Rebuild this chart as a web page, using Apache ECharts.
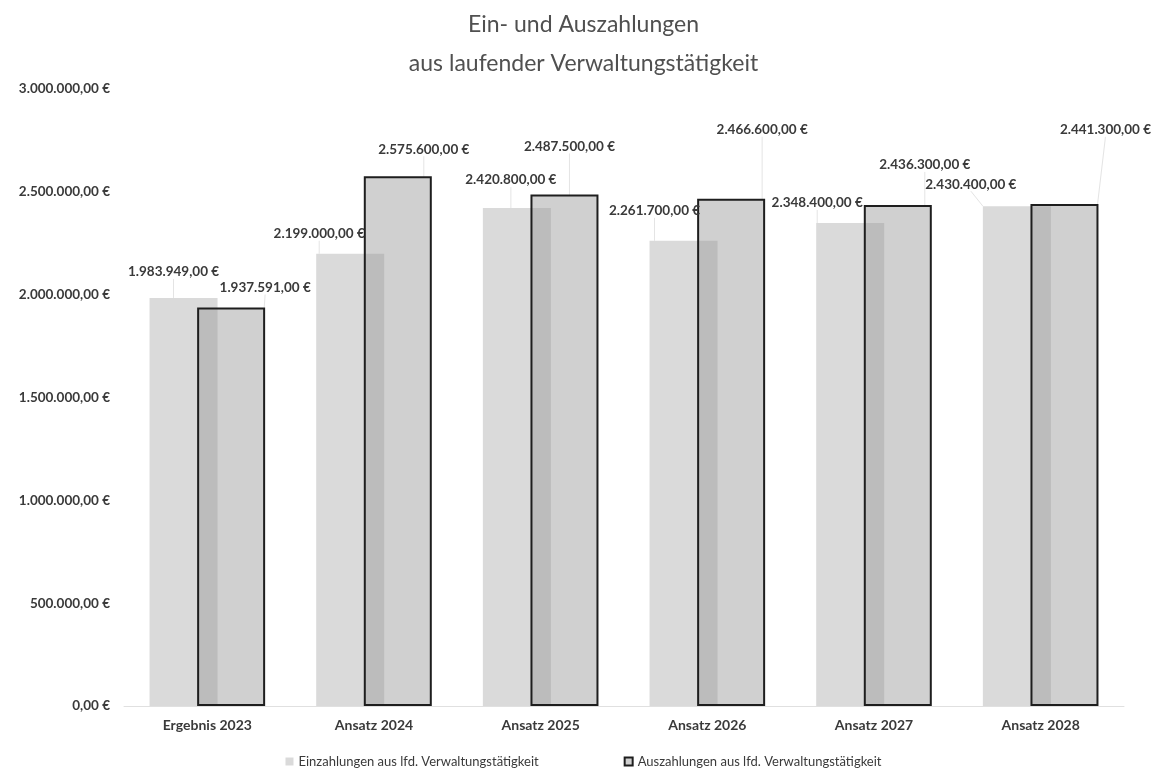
<!DOCTYPE html>
<html>
<head>
<meta charset="utf-8">
<script src="https://cdn.jsdelivr.net/npm/echarts@6/dist/echarts.min.js"></script>
<style>
html,body{margin:0;padding:0;background:#fff;}
#chart{width:1167px;height:769px;}
</style>
</head>
<body>
<div id="chart"></div>
<script>
const categories = ['Ergebnis 2023','Ansatz 2024','Ansatz 2025','Ansatz 2026','Ansatz 2027','Ansatz 2028'];
const einzahlungen = [1983949, 2199000, 2420800, 2261700, 2348400, 2430400];
const auszahlungen = [1937591, 2575600, 2487500, 2466600, 2436300, 2441300];
const seriesNames = ['Einzahlungen aus lfd. Verwaltungstätigkeit', 'Auszahlungen aus lfd. Verwaltungstätigkeit'];
const titleLines = ['Ein- und Auszahlungen', 'aus laufender Verwaltungstätigkeit'];

// label nudges (style only) relative to default top position
const einLabelShift = [[-10,-14],[-31,-8],[-6,-16],[-29,-18],[-33,-8],[-46,-10]];
const ausLabelShift = [[34,-8],[26,-15],[5,-36],[31,-57],[27,-28],[41,-62]];

function fmtEuro(v){
  const neg = v < 0; v = Math.abs(v);
  const parts = v.toFixed(2).split('.');
  const intPart = parts[0].replace(/\B(?=(\d{3})+(?!\d))/g, '.');
  return (neg ? '-' : '') + intPart + ',' + parts[1] + ' €';
}

const FONT = 'Lato, "Open Sans", sans-serif';
const chart = echarts.init(document.getElementById('chart'), null, {renderer:'canvas'});
const labelStyle = {
  show: true, position: 'top', distance: 5,
  formatter: p => fmtEuro(p.value),
  fontFamily: FONT, fontSize: 13.5, fontWeight: 'bold', color: '#3a3a3a'
};
chart.setOption({
  animation: false,
  backgroundColor: '#ffffff',
  title: {
    text: titleLines.join('\n'),
    left: 'center', top: 0,
    textStyle: { fontFamily: FONT, fontSize: 23, fontWeight: 'normal', color: '#505050', lineHeight: 39 }
  },
  grid: { left: 124, right: 43, top: 89, bottom: 63, containLabel: false },
  legend: {
    top: 750, left: 'center', itemWidth: 8, itemHeight: 8, itemGap: 85,
    icon: 'rect',
    textStyle: { fontFamily: FONT, fontSize: 13, color: '#3a3a3a' },
    data: seriesNames
  },
  xAxis: {
    type: 'category', data: categories,
    axisLine: { show: true, lineStyle: { color: '#e0e0e0', width: 1 } },
    axisTick: { show: false },
    axisLabel: { margin: 12, fontFamily: FONT, fontSize: 14, fontWeight: 'bold', color: '#3a3a3a' }
  },
  yAxis: {
    type: 'value', min: 0, max: 3000000, interval: 500000,
    splitLine: { show: false },
    axisLine: { show: false }, axisTick: { show: false },
    axisLabel: { margin: 14, formatter: fmtEuro, fontFamily: FONT, fontSize: 13.5, fontWeight: 'bold', color: '#3a3a3a' }
  },
  series: [
    {
      name: seriesNames[0], type: 'bar', data: einzahlungen,
      barWidth: 68, barGap: '-30%',
      itemStyle: { color: '#dadada' },
      label: labelStyle,
      labelLine: { show: true, lineStyle: { color: '#e4e4e4', width: 1 } },
      labelLayout: p => ({ dx: einLabelShift[p.dataIndex][0], dy: einLabelShift[p.dataIndex][1] })
    },
    {
      name: seriesNames[1], type: 'bar', data: auszahlungen,
      barWidth: 68, barGap: '-30%',
      itemStyle: { color: 'rgba(150,150,150,0.45)', borderColor: '#1e1e1e', borderWidth: 2 },
      label: labelStyle,
      labelLine: { show: true, lineStyle: { color: '#e4e4e4', width: 1 } },
      labelLayout: p => ({ dx: ausLabelShift[p.dataIndex][0], dy: ausLabelShift[p.dataIndex][1] })
    }
  ]
});
</script>
</body>
</html>
